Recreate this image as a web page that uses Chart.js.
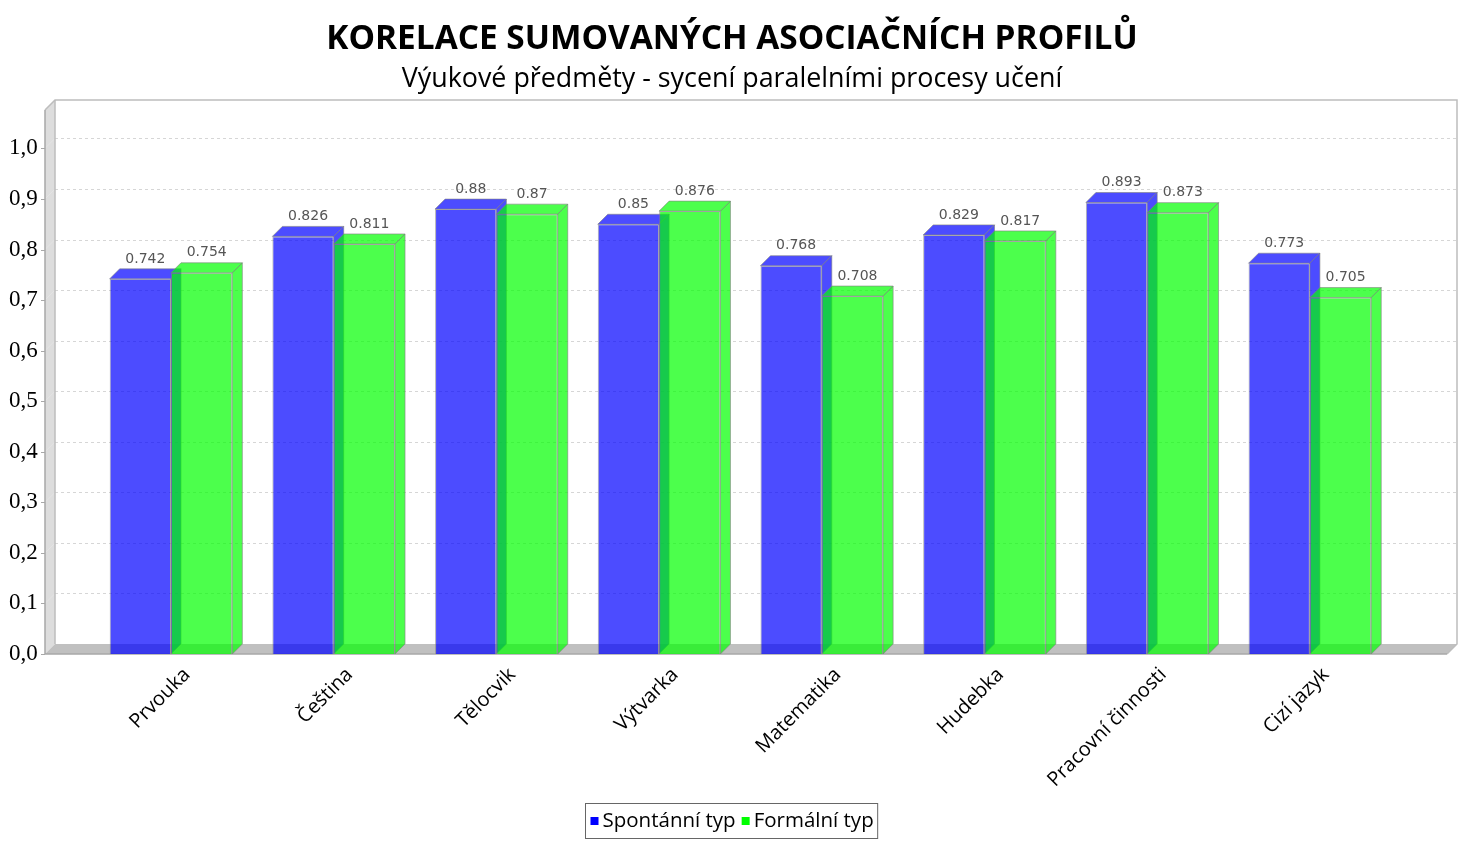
<!DOCTYPE html>
<html>
<head>
<meta charset="utf-8">
<script src="https://cdn.jsdelivr.net/npm/chart.js@4.4.0/dist/chart.umd.min.js"></script>
<style>
    html, body { margin: 0; padding: 0; background: #fff; }
</style>
</head>
<body>
<canvas id="chart" width="1464" height="850"></canvas>
<script>
// Data
const CATEGORIES = ['Prvouka', 'Čeština', 'Tělocvik', 'Výtvarka', 'Matematika', 'Hudebka', 'Pracovní činnosti', 'Cizí jazyk'];
const SPONTANNI = [0.742, 0.826, 0.88, 0.85, 0.768, 0.829, 0.893, 0.773];
const FORMALNI = [0.754, 0.811, 0.87, 0.876, 0.708, 0.817, 0.873, 0.705];
const SERIES_NAMES = ['Spontánní typ', 'Formální typ'];
const Y_TICKS = [0.0, 0.1, 0.2, 0.3, 0.4, 0.5, 0.6, 0.7, 0.8, 0.9, 1.0];
const Y_MAX = 1.076;

// 3D look
const DEPTH = 10;
const FRAME_LEFT = 45;
const FRAME_RIGHT = 1447;
const SERIES_COLORS = ['rgba(0,0,255,0.7)', 'rgba(0,255,0,0.7)'];
const LEGEND_COLORS = ['#0000ff', '#00ff00'];

const bar3d = {
    id: 'bar3d',
    beforeDatasetsDraw(chart) {
        const { ctx, chartArea, scales: { y } } = chart;
        const d = DEPTH;
        const top = chartArea.top;
        const bottom = y.getPixelForValue(0);
        ctx.save();

        // left wall
        ctx.beginPath();
        ctx.moveTo(FRAME_LEFT, top);
        ctx.lineTo(FRAME_LEFT + d, top - d);
        ctx.lineTo(FRAME_LEFT + d, bottom - d);
        ctx.lineTo(FRAME_LEFT, bottom);
        ctx.closePath();
        ctx.fillStyle = '#dddddd';
        ctx.fill();

        // floor
        ctx.beginPath();
        ctx.moveTo(FRAME_LEFT, bottom);
        ctx.lineTo(FRAME_LEFT + d, bottom - d);
        ctx.lineTo(FRAME_RIGHT + d, bottom - d);
        ctx.lineTo(FRAME_RIGHT, bottom);
        ctx.closePath();
        ctx.fillStyle = '#c0c0c0';
        ctx.fill();

        // grid lines on back wall
        ctx.lineWidth = 1;
        ctx.strokeStyle = '#d6d6d6';
        ctx.setLineDash([3, 3]);
        Y_TICKS.forEach(v => {
            if (v === 0) return;
            const py = Math.round(y.getPixelForValue(v)) + 0.5;
            ctx.beginPath();
            ctx.moveTo(FRAME_LEFT + d, py - d);
            ctx.lineTo(FRAME_RIGHT + d, py - d);
            ctx.stroke();
        });
        ctx.setLineDash([]);
        ctx.strokeStyle = '#e4e4e4';
        Y_TICKS.forEach(v => {
            if (v === 0) return;
            const py = y.getPixelForValue(v);
            ctx.beginPath();
            ctx.moveTo(FRAME_LEFT, py);
            ctx.lineTo(FRAME_LEFT + d, py - d);
            ctx.stroke();
        });

        // back wall outline
        ctx.strokeStyle = '#bdbdbd';
        ctx.lineWidth = 1.5;
        ctx.beginPath();
        ctx.moveTo(FRAME_LEFT, top);
        ctx.lineTo(FRAME_LEFT + d, top - d);
        ctx.lineTo(FRAME_RIGHT + d, top - d);
        ctx.lineTo(FRAME_RIGHT + d, bottom - d);
        ctx.lineTo(FRAME_RIGHT, bottom);
        ctx.stroke();
        ctx.beginPath();
        ctx.moveTo(FRAME_LEFT + d, top - d);
        ctx.lineTo(FRAME_LEFT + d, bottom - d);
        ctx.stroke();

        // front axis lines and ticks
        ctx.strokeStyle = '#a8a8a8';
        ctx.lineWidth = 1.5;
        ctx.beginPath();
        ctx.moveTo(FRAME_LEFT, top);
        ctx.lineTo(FRAME_LEFT, bottom);
        ctx.lineTo(FRAME_RIGHT, bottom);
        ctx.stroke();
        ctx.lineWidth = 1;
        Y_TICKS.forEach(v => {
            const py = Math.round(y.getPixelForValue(v)) + 0.5;
            ctx.beginPath();
            ctx.moveTo(FRAME_LEFT - 4, py);
            ctx.lineTo(FRAME_LEFT, py);
            ctx.stroke();
        });
        ctx.restore();
    },
    // bars are drawn below, in series order, so the right bar overlaps the left one's side
    beforeDatasetDraw() {
        return false;
    },
    afterDatasetsDraw(chart) {
        const { ctx } = chart;
        const d = DEPTH;
        chart.data.datasets.forEach((ds, i) => {
            const meta = chart.getDatasetMeta(i);
            meta.data.forEach(bar => {
                bar.draw(ctx);
                const { x, y, base, width } = bar.getProps(['x', 'y', 'base', 'width'], true);
                const x0 = x - width / 2;
                const x1 = x + width / 2;
                ctx.save();
                ctx.fillStyle = SERIES_COLORS[i];
                ctx.strokeStyle = 'rgba(128,128,128,0.6)';
                ctx.lineWidth = 1;
                // top face
                ctx.beginPath();
                ctx.moveTo(x0, y);
                ctx.lineTo(x0 + d, y - d);
                ctx.lineTo(x1 + d, y - d);
                ctx.lineTo(x1, y);
                ctx.closePath();
                ctx.fill();
                ctx.stroke();
                // side face
                ctx.beginPath();
                ctx.moveTo(x1, y);
                ctx.lineTo(x1 + d, y - d);
                ctx.lineTo(x1 + d, base - d);
                ctx.lineTo(x1, base);
                ctx.closePath();
                ctx.fill();
                ctx.stroke();
                ctx.restore();
            });
        });

        // value labels
        ctx.save();
        ctx.font = '14px "DejaVu Sans"';
        ctx.fillStyle = '#555555';
        ctx.textAlign = 'center';
        ctx.textBaseline = 'bottom';
        chart.data.datasets.forEach((ds, i) => {
            chart.getDatasetMeta(i).data.forEach((bar, j) => {
                const { x, y } = bar.getProps(['x', 'y'], true);
                ctx.fillText(String(ds.data[j]), x + d / 2, y - d - 3);
            });
        });
        ctx.restore();
    }
};

const boxedLegend = {
    id: 'boxedLegend',
    afterDraw(chart) {
        const { ctx } = chart;
        ctx.save();
        ctx.font = '20.5px "Open Sans"';
        const widths = SERIES_NAMES.map(n => ctx.measureText(n).width);
        const total = 5 + 8 + 4 + widths[0] + 6 + 8 + 4 + widths[1] + 4;
        const left = Math.round(731.5 - total / 2) + 0.5;
        const top = 803.5, h = 35, cy = 821;
        ctx.strokeStyle = '#666666';
        ctx.lineWidth = 1;
        ctx.strokeRect(left, top, total, h);
        let x = left + 5;
        ctx.textBaseline = 'middle';
        ctx.textAlign = 'left';
        SERIES_NAMES.forEach((name, i) => {
            ctx.fillStyle = LEGEND_COLORS[i];
            ctx.fillRect(x, cy - 4, 8, 8);
            x += 12;
            ctx.fillStyle = '#000';
            ctx.fillText(name, x, cy);
            x += widths[i] + 6;
        });
        ctx.restore();
    }
};

new Chart(document.getElementById('chart'), {
    type: 'bar',
    data: {
        labels: CATEGORIES,
        datasets: [
            {
                label: SERIES_NAMES[0],
                data: SPONTANNI,
                backgroundColor: SERIES_COLORS[0],
                borderColor: 'rgba(128,128,128,0.6)',
                borderWidth: 1,
                categoryPercentage: 0.754,
                barPercentage: 1.0,
            },
            {
                label: SERIES_NAMES[1],
                data: FORMALNI,
                backgroundColor: SERIES_COLORS[1],
                borderColor: 'rgba(128,128,128,0.6)',
                borderWidth: 1,
                categoryPercentage: 0.754,
                barPercentage: 1.0,
            }
        ]
    },
    options: {
        responsive: false,
        animation: false,
        layout: { padding: { left: 0, right: 0, top: 0, bottom: 46 } },
        plugins: {
            legend: { display: false },
            tooltip: { enabled: false },
            title: {
                display: true,
                text: 'KORELACE SUMOVANÝCH ASOCIAČNÍCH PROFILŮ',
                color: '#000',
                font: { family: 'Open Sans', size: 33.4, weight: 'bold', lineHeight: 1.2 },
                padding: { top: 19, bottom: 0 }
            },
            subtitle: {
                display: true,
                text: 'Výukové předměty - sycení paralelními procesy učení',
                color: '#000',
                font: { family: 'Open Sans', size: 26.85, lineHeight: 1.2 },
                padding: { top: 4, bottom: 14.7 }
            }
        },
        scales: {
            x: {
                offset: true,
                grid: { display: false, drawTicks: false },
                border: { display: false },
                ticks: {
                    autoSkip: false,
                    minRotation: 45,
                    maxRotation: 45,
                    padding: 9,
                    labelOffset: 16,
                    color: '#000',
                    font: { family: 'Open Sans', size: 20 }
                },
                afterFit(scale) { scale.height = 150; }
            },
            y: {
                min: 0,
                max: Y_MAX,
                afterBuildTicks(scale) {
                    scale.ticks = Y_TICKS.map(v => ({ value: v }));
                },
                grid: { display: false, drawTicks: false },
                border: { display: false },
                ticks: {
                    padding: 52,
                    color: '#000',
                    font: { family: 'Liberation Serif', size: 23 },
                    callback: v => v.toFixed(1).replace('.', ',')
                },
                afterFit(scale) { scale.width = 89.65; }
            },
            // empty axis that only reserves the space right of the last category
            yRight: {
                position: 'right',
                grid: { display: false, drawTicks: false },
                border: { display: false },
                ticks: { display: false },
                afterFit(scale) { scale.width = 72.75; }
            }
        }
    },
    plugins: [bar3d, boxedLegend]
});
</script>
</body>
</html>
